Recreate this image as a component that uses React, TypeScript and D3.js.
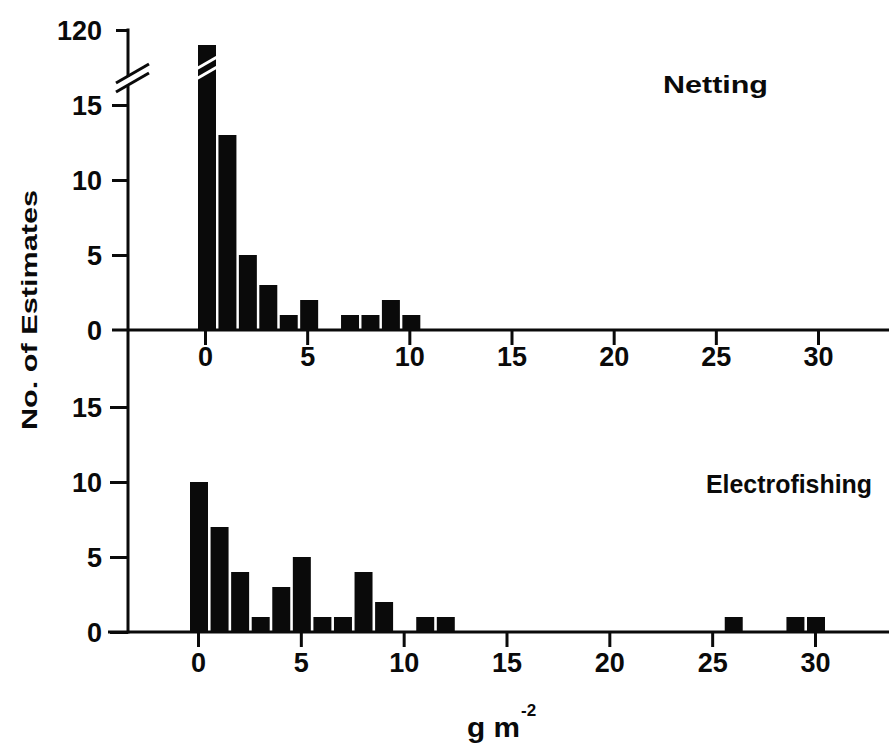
import React, { useEffect, useRef } from "react";
import * as d3 from "d3";

// histogram of biomass estimates (g m-2), two sampling methods
const nettingBins = [0, 1, 2, 3, 4, 5, 6, 7, 8, 9, 10];
const nettingCounts = [115, 13, 5, 3, 1, 2, 0, 1, 1, 2, 1];
const electroBins = [0, 1, 2, 3, 4, 5, 6, 7, 8, 9, 11, 12, 26, 29, 30];
const electroCounts = [10, 7, 4, 1, 3, 5, 1, 1, 4, 2, 1, 1, 1, 1, 1];
const xTicks = [0, 5, 10, 15, 20, 25, 30];
const yTicks = [0, 5, 10, 15];
const breakTick = 120;

const FONT = "'Liberation Sans', Arial, Helvetica, sans-serif";
const INK = "#0a0a0a";

export default function App() {
  const ref = useRef<SVGSVGElement>(null);

  useEffect(() => {
    const svg = d3.select(ref.current);
    svg.selectAll("*").remove();

    const axisX = 128;
    const xTop = d3.scaleLinear().domain([0, 30]).range([205, 818]);
    const xBot = d3.scaleLinear().domain([0, 30]).range([198, 815]);
    const yTop = d3.scaleLinear().domain([0, 15]).range([330, 105]);
    const yTopHigh = d3.scaleLinear().domain([100, 120]).range([90, 30]);
    const yBot = d3.scaleLinear().domain([0, 15]).range([632, 407]);
    const bw = (xTop(1) - xTop(0)) * 0.88;

    const yNet = (v: number) => (v > 15 ? yTopHigh(v) : yTop(v));

    // bars
    const g = svg.append("g");
    g.selectAll(".netBar")
      .data(nettingBins.map((b, i) => ({ b, c: nettingCounts[i] })).filter(d => d.c > 0))
      .join("rect")
      .attr("class", "netBar")
      .attr("x", d => xTop(d.b) - bw / 2 + 2)
      .attr("y", d => yNet(d.c))
      .attr("width", bw)
      .attr("height", d => yTop(0) - yNet(d.c))
      .attr("fill", INK);

    g.selectAll(".elBar")
      .data(electroBins.map((b, i) => ({ b, c: electroCounts[i] })))
      .join("rect")
      .attr("class", "elBar")
      .attr("x", d => xBot(d.b) - bw / 2 + 1)
      .attr("y", d => yBot(d.c))
      .attr("width", bw)
      .attr("height", d => yBot(0) - yBot(d.c))
      .attr("fill", INK);

    // white break marks across the tall first bar
    const c0 = xTop(0) + 2;
    [0, 10].forEach(off => {
      g.append("line")
        .attr("x1", c0 - 16).attr("y1", 72 + off)
        .attr("x2", c0 + 17).attr("y2", 53 + off)
        .attr("stroke", "#fff").attr("stroke-width", 3);
    });

    // x axes
    const styleAxis = (sel: any, labelY: number) => {
      sel.select(".domain").remove();
      sel.selectAll(".tick line").attr("stroke", INK).attr("stroke-width", 3);
      sel.selectAll(".tick text")
        .attr("y", labelY).attr("dy", null)
        .attr("fill", INK)
        .style("font-family", FONT).style("font-size", "27px").style("font-weight", "bold");
    };

    const axTop = svg.append("g").attr("transform", `translate(0,${yTop(0)})`)
      .call(d3.axisBottom(xTop).tickValues(xTicks).tickSize(15).tickFormat(d3.format("d")));
    styleAxis(axTop, 36);
    const axBot = svg.append("g").attr("transform", `translate(0,${yBot(0)})`)
      .call(d3.axisBottom(xBot).tickValues(xTicks).tickSize(15).tickFormat(d3.format("d")));
    styleAxis(axBot, 40);

    svg.append("line").attr("x1", 112).attr("x2", 889)
      .attr("y1", yTop(0)).attr("y2", yTop(0)).attr("stroke", INK).attr("stroke-width", 3);
    svg.append("line").attr("x1", 108).attr("x2", 889)
      .attr("y1", yBot(0)).attr("y2", yBot(0)).attr("stroke", INK).attr("stroke-width", 3);

    // y axes
    const styleY = (sel: any) => {
      sel.select(".domain").remove();
      sel.selectAll(".tick line").attr("stroke", INK).attr("stroke-width", 3);
      sel.selectAll(".tick text")
        .attr("dy", "0.36em").attr("fill", INK)
        .style("font-family", FONT).style("font-size", "27px").style("font-weight", "bold");
    };
    const ayTop = svg.append("g").attr("transform", `translate(${axisX},0)`)
      .call(d3.axisLeft(yTop).tickValues(yTicks.slice(1)).tickSize(16).tickPadding(10));
    styleY(ayTop);
    const ayHigh = svg.append("g").attr("transform", `translate(${axisX},0)`)
      .call(d3.axisLeft(yTopHigh).tickValues([breakTick]).tickSize(12).tickPadding(14));
    styleY(ayHigh);
    const ayBot = svg.append("g").attr("transform", `translate(${axisX},0)`)
      .call(d3.axisLeft(yBot).tickValues(yTicks).tickSize(18).tickPadding(8));
    styleY(ayBot);
    // zero label of the top panel
    svg.append("text").attr("x", axisX - 26).attr("y", yTop(0)).attr("dy", "0.36em")
      .attr("text-anchor", "end").attr("fill", INK)
      .style("font-family", FONT).style("font-size", "27px").style("font-weight", "bold")
      .text("0");

    // vertical axis line with a break
    svg.append("line").attr("x1", axisX).attr("x2", axisX)
      .attr("y1", yTopHigh(breakTick) - 1.5).attr("y2", 77)
      .attr("stroke", INK).attr("stroke-width", 3);
    svg.append("line").attr("x1", axisX).attr("x2", axisX)
      .attr("y1", 86).attr("y2", yBot(0) + 1.5)
      .attr("stroke", INK).attr("stroke-width", 3);
    [0, 9].forEach(off => {
      svg.append("line")
        .attr("x1", 116).attr("y1", 83 + off)
        .attr("x2", 149).attr("y2", 64 + off)
        .attr("stroke", INK).attr("stroke-width", 3);
    });

    // labels
    const txt = (x: number, y: number, s: string, size: number, len?: number) => {
      const t = svg.append("text").attr("x", x).attr("y", y).attr("fill", INK)
        .style("font-family", FONT).style("font-size", `${size}px`).style("font-weight", "bold")
        .text(s);
      if (len) t.attr("textLength", len).attr("lengthAdjust", "spacingAndGlyphs");
      return t;
    };
    txt(663, 93, "Netting", 24, 105);
    txt(706, 493, "Electrofishing", 25, 166);

    svg.append("text")
      .attr("transform", "translate(37,310) rotate(-90)")
      .attr("text-anchor", "middle").attr("fill", INK)
      .attr("textLength", 240).attr("lengthAdjust", "spacingAndGlyphs")
      .style("font-family", FONT).style("font-size", "22px").style("font-weight", "bold")
      .text("No. of Estimates");

    txt(467, 737, "g m", 27, 53);
    txt(521, 716, "-2", 17);
  }, []);

  return (
    <svg
      ref={ref}
      width={889}
      height={752}
      style={{ position: "absolute", left: 0, top: 0, background: "#fff" }}
    />
  );
}
